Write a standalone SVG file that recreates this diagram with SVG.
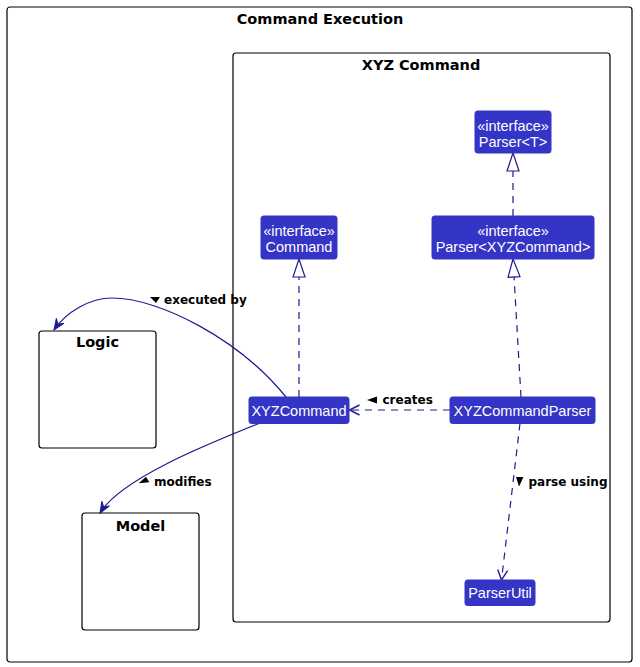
<svg xmlns="http://www.w3.org/2000/svg" width="640" height="667" viewBox="0 0 640 667">
<style>
.frame{fill:#ffffff;stroke:#000000;stroke-width:1.2}
.ftitle{font-family:"DejaVu Sans",sans-serif;font-weight:bold;font-size:14.5px;fill:#000000;text-anchor:middle}
.node rect{fill:#3434C6;stroke:#3434C6;stroke-width:1}
.node text{font-family:"Liberation Sans",Arial,sans-serif;font-size:14.5px;fill:#ffffff;text-anchor:middle}
.c{fill:none;stroke:#1C1C8E;stroke-width:1.2}
.d{stroke-dasharray:7,6}
.lbl{font-family:"DejaVu Sans",sans-serif;font-weight:bold;font-size:12px;fill:#000000}
.tri{fill:#000000}
</style>
<defs>
<marker id="realize" markerUnits="userSpaceOnUse" markerWidth="22" markerHeight="16" refX="18" refY="6" orient="auto" overflow="visible">
<path d="M0,0 L18,6 L0,12 Z" fill="#ffffff" stroke="#1C1C8E" stroke-width="1.2"/>
</marker>
<marker id="open" markerUnits="userSpaceOnUse" markerWidth="14" markerHeight="12" refX="10" refY="5" orient="auto" overflow="visible">
<path d="M0,0 L10,5 L0,10" fill="none" stroke="#1C1C8E" stroke-width="1.4"/>
</marker>
<marker id="solid" markerUnits="userSpaceOnUse" markerWidth="14" markerHeight="12" refX="11" refY="4.5" orient="auto" overflow="visible">
<path d="M0,0 L11,4.5 L0,9 L4,4.5 Z" fill="#1C1C8E" stroke="#1C1C8E" stroke-width="1"/>
</marker>
</defs>
<rect width="640" height="667" fill="#ffffff"/>

<g id="frame-command-execution">
<rect class="frame" x="7" y="7" width="625" height="655" rx="3"/>
<text class="ftitle" x="320" y="24">Command Execution</text>
</g>
<g id="frame-xyz-command">
<rect class="frame" x="233" y="53" width="377" height="569" rx="3"/>
<text class="ftitle" x="421" y="69.5">XYZ Command</text>
</g>
<g id="logic">
<rect class="frame" x="39" y="331" width="117" height="117" rx="3"/>
<text class="ftitle" x="97.5" y="347">Logic</text>
</g>
<g id="model">
<rect class="frame" x="82" y="513" width="117" height="117" rx="3"/>
<text class="ftitle" x="140.5" y="530.5">Model</text>
</g>

<g id="connectors">
<path class="c d" d="M513,216 L513,153" marker-end="url(#realize)"/>
<path class="c d" d="M299,397 L299,259" marker-end="url(#realize)"/>
<path class="c d" d="M521,397 L513,259" marker-end="url(#realize)"/>
<path class="c d" d="M450,410 L349.5,410" marker-end="url(#open)"/>
<path class="c d" d="M520,423.5 L501.5,580" marker-end="url(#open)"/>
<path class="c" d="M286,397 C240,340 160,298 112,298 C90,298 66,312 54,330" marker-end="url(#solid)"/>
<path class="c" d="M259,423.5 C200,447 120,480 100,513" marker-end="url(#solid)"/>
<polygon class="tri" points="150,297 160,297 156,303"/>
<text class="lbl" x="164" y="304">executed by</text>
<polygon class="tri" points="367,400 377,396.5 377,403.5"/>
<text class="lbl" x="382.5" y="404">creates</text>
<polygon class="tri" points="516,477 523.5,477 519,486.5"/>
<text class="lbl" x="528.5" y="486">parse using</text>
<polygon class="tri" points="138.7,483.3 146,476.7 149.3,482.3"/>
<text class="lbl" x="154" y="485.5">modifies</text>
</g>

<g id="parser-t" class="node">
<rect x="475" y="111" width="76" height="42" rx="2.5"/>
<text x="513" y="130.5">«interface»</text>
<text x="513" y="147">Parser&lt;T&gt;</text>
</g>
<g id="command" class="node">
<rect x="261" y="216" width="76" height="43" rx="2.5"/>
<text x="299" y="235.5">«interface»</text>
<text x="299" y="252">Command</text>
</g>
<g id="parser-xyzcommand" class="node">
<rect x="432" y="216" width="162" height="43" rx="2.5"/>
<text x="513" y="235.5">«interface»</text>
<text x="513" y="252">Parser&lt;XYZCommand&gt;</text>
</g>
<g id="xyzcommand" class="node">
<rect x="249" y="397" width="100" height="26.5" rx="2.5"/>
<text x="299" y="415.5">XYZCommand</text>
</g>
<g id="xyzcommandparser" class="node">
<rect x="450" y="397" width="145" height="26.5" rx="2.5"/>
<text x="522.5" y="415.5">XYZCommandParser</text>
</g>
<g id="parserutil" class="node">
<rect x="465" y="580" width="70" height="25.5" rx="2.5"/>
<text x="500" y="598">ParserUtil</text>
</g>
</svg>
